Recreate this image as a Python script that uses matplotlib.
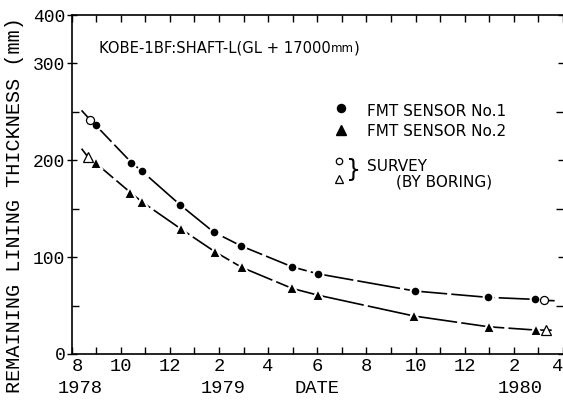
import numpy as np
import matplotlib
matplotlib.use("Agg")
import matplotlib.pyplot as plt
from matplotlib.lines import Line2D
from matplotlib.transforms import blended_transform_factory

# ---- data (x = months after August 1978, y = remaining lining thickness in mm) ----
sensor1_months = [0.99, 2.44, 2.87, 4.42, 5.78, 6.90, 8.98, 10.02, 13.98, 16.94, 18.86]
sensor1_mm     = [236, 197.6, 188.7, 154, 126, 111.6, 90, 82.8, 65, 58.5, 56.4]
sensor2_months = [0.99, 2.40, 2.87, 4.46, 5.84, 6.93, 8.98, 10.02, 13.94, 16.97, 18.90]
sensor2_mm     = [197, 166.7, 157, 129, 105.5, 89.4, 67.7, 60.8, 39.2, 28.1, 24.7]
survey1_months = [0.75, 19.24]
survey1_mm     = [242, 55.4]
survey2_months = [0.68, 19.30]
survey2_mm     = [203, 24.7]
# fitted-curve end points
curve1_ends_months = [0.41, 19.66]
curve1_ends_mm     = [251.5, 55.0]
curve2_ends_months = [0.41, 19.66]
curve2_ends_mm     = [212.0, 24.5]

month_tick_pos    = [0, 2, 4, 6, 8, 10, 12, 14, 16, 18, 20]
month_tick_labels = ["8", "10", "12", "2", "4", "6", "8", "10", "12", "2", "4"]
year_labels       = ["1978", "1979", "1980"]
year_label_pos    = [0.37, 6.17, 18.26]
y_ticks           = [0, 100, 200, 300, 400]

title_text = "KOBE-1BF:SHAFT-L(GL + 17000"
ylabel_text = "REMAINING LINING THICKNESS (mm)"

# ---- figure ----
W, H = 563, 401
fig = plt.figure(figsize=(W / 100, H / 100), dpi=100)
ax = fig.add_axes([71.5 / W, (H - 354) / H, (W - 71.5) / W, 339 / H])

def fwd(y):
    y = np.asarray(y, dtype=float)
    return np.where(y <= 300, y, 300 + (y - 300) * 0.5)

def inv(y):
    y = np.asarray(y, dtype=float)
    return np.where(y <= 300, y, 300 + (y - 300) / 0.5)

ax.set_yscale("function", functions=(fwd, inv))
ax.set_xlim(0, 20)
ax.set_ylim(0, 400)

def curve(ends_m, ends_v, sm, sv, pm, pv):
    m = list(ends_m) + list(sm) + list(pm)
    v = list(ends_v) + list(sv) + list(pv)
    order = np.argsort(m)
    return np.asarray(m)[order], np.asarray(v)[order]

lw = 1.2
c1m, c1v = curve(curve1_ends_months, curve1_ends_mm, sensor1_months, sensor1_mm, survey1_months, survey1_mm)
c2m, c2v = curve(curve2_ends_months, curve2_ends_mm, sensor2_months, sensor2_mm, survey2_months, survey2_mm)
ax.plot(c1m, c1v, color="black", lw=lw, zorder=2, dashes=(26, 2.5))
ax.plot(c2m, c2v, color="black", lw=lw, zorder=2, dashes=(26, 2.5))

ax.plot(sensor1_months, sensor1_mm, ls="none", marker="o", ms=7.0, mfc="black",
        mec="white", mew=1.5, zorder=3)
ax.plot(sensor2_months, sensor2_mm, ls="none", marker="^", ms=8.5, mfc="black",
        mec="white", mew=1.5, zorder=3)
ax.plot(survey1_months, survey1_mm, ls="none", marker="o", ms=5.8, mfc="white",
        mec="black", mew=0.9, zorder=3)
ax.plot(survey2_months, survey2_mm, ls="none", marker="^", ms=6.8, mfc="white",
        mec="black", mew=0.9, zorder=3)

# ---- axes styling ----
for s in ax.spines.values():
    s.set_linewidth(1.2)
ax.spines["right"].set_visible(False)

mono = "Liberation Mono"
ax.set_xticks(month_tick_pos)
ax.set_xticklabels(month_tick_labels, fontfamily=mono, fontsize=13.5)
ax.set_xticks(np.arange(0, 21, 1), minor=True)
ax.tick_params(axis="x", which="both", direction="in", length=5, width=1.0,
               top=True, pad=3)
xl = ax.xaxis.get_majorticklabels()
xl[0].set_ha("left")
xl[-1].set_ha("right")

ax.set_yticks(y_ticks)
ax.set_yticklabels([str(v) for v in y_ticks], fontfamily=mono, fontsize=13)
ax.set_yticks([50, 150, 250], minor=True)
ax.tick_params(axis="y", which="major", direction="inout", length=7, width=1.0,
               right=True, pad=1)
ax.tick_params(axis="y", which="minor", direction="in", length=5, width=1.0,
               right=True)

trans = blended_transform_factory(ax.transData, ax.transAxes)
for lab, pos in zip(year_labels, year_label_pos):
    ax.text(pos, -0.103, lab, transform=trans, ha="center", va="center",
            fontfamily=mono, fontsize=13.5, clip_on=False)
ax.text(10.0, -0.103, "DATE", transform=trans, ha="center", va="center",
        fontfamily=mono, fontsize=13.5, clip_on=False)

fig.text(15 / W, 1 - 17 / H, ylabel_text, rotation=90, ha="center", va="top",
         fontfamily=mono, fontsize=14.5)

# ---- annotation title ----
t = ax.text(0.056, 0.903, title_text, transform=ax.transAxes, ha="left",
            va="center", fontsize=10.6)
t2 = ax.annotate("mm", xy=(1, 0), xycoords=t, ha="left", va="bottom", fontsize=8.5)
ax.annotate(")", xy=(1, 0), xycoords=t2, ha="left", va="bottom", fontsize=10.6)

# ---- hand-drawn legend ----
ta = ax.transAxes
ax.add_line(Line2D([0.548], [0.726], transform=ta, marker="o", ms=5.8, mfc="black", mec="black", ls="none"))
ax.add_line(Line2D([0.548], [0.661], transform=ta, marker="^", ms=6.8, mfc="black", mec="black", ls="none"))
ax.add_line(Line2D([0.544], [0.569], transform=ta, marker="o", ms=4.6, mfc="white", mec="black", mew=0.9, ls="none"))
ax.add_line(Line2D([0.544], [0.516], transform=ta, marker="^", ms=5.2, mfc="white", mec="black", mew=0.9, ls="none"))
legend_fs = 11
ax.text(0.601, 0.714, "FMT SENSOR No.1", transform=ta, ha="left", va="center", fontsize=legend_fs)
ax.text(0.601, 0.655, "FMT SENSOR No.2", transform=ta, ha="left", va="center", fontsize=legend_fs)
ax.text(0.574, 0.543, "}", transform=ta, ha="center", va="center", fontsize=17)
ax.text(0.601, 0.552, "SURVEY", transform=ta, ha="left", va="center", fontsize=legend_fs)
ax.text(0.661, 0.507, "(BY BORING)", transform=ta, ha="left", va="center", fontsize=legend_fs)

fig.savefig("out.png", dpi=100)
